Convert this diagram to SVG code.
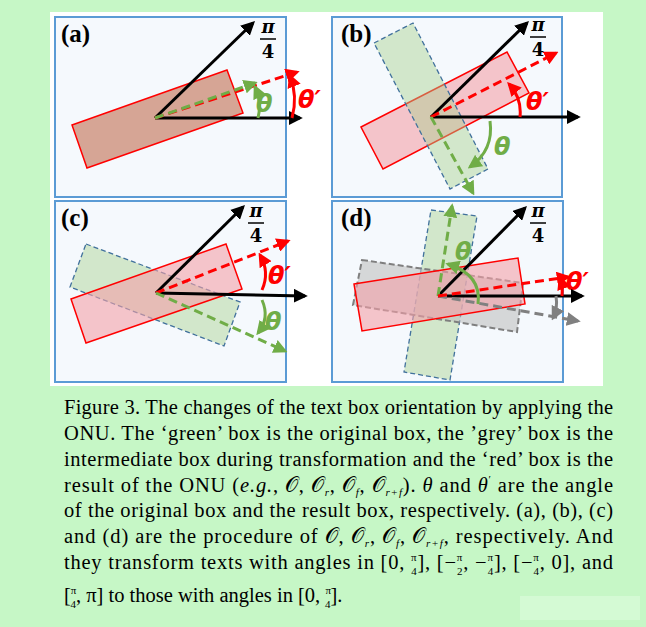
<svg xmlns="http://www.w3.org/2000/svg" width="646" height="627" viewBox="0 0 646 627">
<defs>
<marker id="mr" viewBox="0 0 10 10" refX="8" refY="5" markerWidth="14" markerHeight="14" orient="auto" markerUnits="userSpaceOnUse"><path d="M0,0 L10,5 L0,10 z" fill="#ff0000"/></marker>
<marker id="mg" viewBox="0 0 10 10" refX="8" refY="5" markerWidth="14" markerHeight="14" orient="auto" markerUnits="userSpaceOnUse"><path d="M0,0 L10,5 L0,10 z" fill="#70ad47"/></marker>
<marker id="my" viewBox="0 0 10 10" refX="8" refY="5" markerWidth="14" markerHeight="14" orient="auto" markerUnits="userSpaceOnUse"><path d="M0,0 L10,5 L0,10 z" fill="#808080"/></marker>
<marker id="mb" viewBox="0 0 10 10" refX="8" refY="5" markerWidth="14" markerHeight="14" orient="auto" markerUnits="userSpaceOnUse"><path d="M0,0 L10,5 L0,10 z" fill="#000"/></marker>
</defs>
<style>
.panel{fill:#f5f9fd;stroke:#5b9bd5;stroke-width:2}
.red{fill:#f4a0a8;fill-opacity:0.6;stroke:#ff0000;stroke-width:1.5}
.grn{fill:#a9d08e;fill-opacity:0.45;stroke:#41719c;stroke-width:1.3;stroke-dasharray:5 3}
.gry{fill:#bfbfbf;fill-opacity:0.6;stroke:#7f7f7f;stroke-width:2;stroke-dasharray:6 3}
.ax{stroke:#000;stroke-width:3;fill:none;marker-end:url(#mb)}
.rd{stroke:#ff0000;stroke-width:3;stroke-dasharray:9 5;fill:none;marker-end:url(#mr)}
.gd{stroke:#70ad47;stroke-width:3;stroke-dasharray:9 5;fill:none;marker-end:url(#mg)}
.yd{stroke:#808080;stroke-width:3;stroke-dasharray:9 5;fill:none;marker-end:url(#my)}
.ra{stroke:#ff0000;stroke-width:3;fill:none;marker-end:url(#mr)}
.ga{stroke:#70ad47;stroke-width:3;fill:none;marker-end:url(#mg)}
.ya{stroke:#808080;stroke-width:3;fill:none;marker-end:url(#my)}
.lab{font-family:"Liberation Serif",serif;font-weight:bold;font-size:25px}
.pi{font-family:"DejaVu Serif","Liberation Serif",serif;font-weight:bold;font-style:italic;font-size:18px;text-anchor:middle}
.fr{font-family:"DejaVu Serif","Liberation Serif",serif;font-weight:bold;font-size:18px;text-anchor:middle}
.th{font-family:"DejaVu Sans","Liberation Sans",sans-serif;font-weight:bold;font-style:italic;font-size:24px}
.cap{font-family:"Liberation Serif",serif;font-size:20.5px;fill:#000}
.sm{font-size:11px}
</style>
<rect width="646" height="627" fill="#c6f7c6"/>
<rect x="50" y="12" width="553" height="374" fill="#ffffff"/>
<rect x="520" y="596" width="120" height="24" fill="#d4fad4"/>

<g id="panel-a">
<rect class="panel" x="55" y="17" width="231" height="180"/>
<polygon points="72,125 227,70 243,113 87,168" fill="#d6a595" stroke="#ff0000" stroke-width="1.5"/>
<text class="lab" x="61" y="42">(a)</text>
<text class="pi" x="268" y="33">π</text><line x1="260" y1="39" x2="276" y2="39" stroke="#000" stroke-width="1.5"/><text class="fr" x="268" y="58">4</text>
<text class="th" x="256" y="112" fill="#70ad47">θ</text>
<text class="th" x="298" y="108" fill="#ff0000">θ′</text>
</g>
<g id="panel-b">
<rect class="panel" x="332" y="17" width="230" height="180"/>
<polygon class="red" points="361,127 507,52 529,93 383,169"/>
<polygon class="grn" points="374,43 413,23 488,169 450,189"/>
<text class="lab" x="341" y="42">(b)</text>
<text class="pi" x="538" y="31">π</text><line x1="530" y1="37" x2="546" y2="37" stroke="#000" stroke-width="1.5"/><text class="fr" x="538" y="56">4</text>
<text class="th" x="526" y="110" fill="#ff0000">θ′</text>
<text class="th" x="494" y="155" fill="#70ad47">θ</text>
</g>
<g id="panel-c">
<rect class="panel" x="55" y="201" width="231" height="181"/>
<polygon class="grn" points="86,244 240,302 224,346 70,287"/>
<polygon class="red" points="71,299 226,244 242,289 86,343"/>
<text class="lab" x="61" y="226">(c)</text>
<text class="pi" x="256" y="217">π</text><line x1="248" y1="223" x2="264" y2="223" stroke="#000" stroke-width="1.5"/><text class="fr" x="256" y="242">4</text>
<text class="th" x="268" y="284" fill="#ff0000">θ′</text>
<text class="th" x="265" y="330" fill="#70ad47">θ</text>
</g>
<g id="panel-d">
<rect class="panel" x="332" y="201" width="231" height="181"/>
<polygon class="grn" points="431,210 477,216 450,380 404,372"/>
<polygon class="gry" points="362,260 523,283 517,332 353,305"/>
<polygon class="red" points="354,284 518,258 525,304 362,331"/>
<text class="lab" x="341" y="226">(d)</text>
<text class="pi" x="538" y="217">π</text><line x1="530" y1="223" x2="546" y2="223" stroke="#000" stroke-width="1.5"/><text class="fr" x="538" y="242">4</text>
<text class="th" x="455" y="260" fill="#70ad47">θ</text>
<text class="th" x="566" y="290" fill="#ff0000">θ′</text>
</g>
<g id="connectors">
<line class="ax" x1="155" y1="118" x2="253" y2="23"/>
<line class="ax" x1="155" y1="118" x2="300" y2="118"/>
<line class="rd" x1="155" y1="118" x2="297" y2="72"/>
<line class="gd" x1="155" y1="118" x2="255" y2="83"/>
<path class="ga" d="M258,118 Q262,102 255,87"/>
<path class="ra" d="M292,118 Q298,96 290,76"/>

<line class="ax" x1="431" y1="117" x2="527" y2="23"/>
<line class="ax" x1="431" y1="117" x2="578" y2="117"/>
<line class="rd" x1="431" y1="117" x2="556" y2="53"/>
<line class="gd" x1="431" y1="117" x2="473" y2="193"/>
<path class="ra" d="M520,117 Q522,98 509,84"/>
<path class="ga" d="M490,121 Q494,150 470,167"/>

<line class="ax" x1="156" y1="293" x2="243" y2="207"/>
<line class="ax" x1="156" y1="293" x2="305" y2="296"/>
<line class="rd" x1="156" y1="293" x2="288" y2="241"/>
<line class="gd" x1="156" y1="293" x2="285" y2="351"/>
<path class="ra" d="M262,290 Q270,272 260,255"/>
<path class="ga" d="M262,300 Q270,318 258,333"/>

<line class="ax" x1="438" y1="296" x2="525" y2="208"/>
<line class="ax" x1="438" y1="296" x2="582" y2="296"/>
<line class="gd" x1="438" y1="296" x2="452" y2="206"/>
<line class="yd" x1="438" y1="296" x2="578" y2="321"/>
<line class="rd" x1="438" y1="296" x2="568" y2="277"/>
<path class="ga" d="M478,304 Q482,275 448,264"/>
<path class="ra" d="M562,296 Q563,286 560,278"/>
<path class="ya" d="M556,296 Q558,308 553,318"/>
</g>

<g id="caption" class="cap">
<text x="64" y="414" textLength="549" lengthAdjust="spacing">Figure 3. The changes of the text box orientation by applying the</text>
<text x="64" y="440" textLength="549" lengthAdjust="spacing">ONU. The ‘green’ box is the original box, the ’grey’ box is the</text>
<text x="64" y="466" textLength="549" lengthAdjust="spacing">intermediate box during transformation and the ‘red’ box is the</text>
<text x="64" y="492" textLength="549" lengthAdjust="spacing">result of the ONU (<tspan font-style="italic">e.g.</tspan>, 𝒪, 𝒪<tspan class="sm" dy="4" font-style="italic">r</tspan><tspan dy="-4">, 𝒪</tspan><tspan class="sm" dy="4" font-style="italic">f</tspan><tspan dy="-4">, 𝒪</tspan><tspan class="sm" dy="4" font-style="italic">r+f</tspan><tspan dy="-4">). </tspan><tspan font-style="italic">θ</tspan> and <tspan font-style="italic">θ</tspan><tspan class="sm" dy="-9">′</tspan><tspan dy="9"> are the angle</tspan></text>
<text x="64" y="517" textLength="549" lengthAdjust="spacing">of the original box and the result box, respectively. (a), (b), (c)</text>
<text x="64" y="543" textLength="549" lengthAdjust="spacing">and (d) are the procedure of 𝒪, 𝒪<tspan class="sm" dy="4" font-style="italic">r</tspan><tspan dy="-4">, 𝒪</tspan><tspan class="sm" dy="4" font-style="italic">f</tspan><tspan dy="-4">, 𝒪</tspan><tspan class="sm" dy="4" font-style="italic">r+f</tspan><tspan dy="-4">, respectively. And</tspan></text>
<text x="64" y="569" textLength="549" lengthAdjust="spacing">they transform texts with angles in [0, <tspan class="sm" dy="-8">π</tspan><tspan class="sm" dx="-6" dy="14">4</tspan><tspan dy="-6">], [−</tspan><tspan class="sm" dy="-8">π</tspan><tspan class="sm" dx="-6" dy="14">2</tspan><tspan dy="-6">, −</tspan><tspan class="sm" dy="-8">π</tspan><tspan class="sm" dx="-6" dy="14">4</tspan><tspan dy="-6">], [−</tspan><tspan class="sm" dy="-8">π</tspan><tspan class="sm" dx="-6" dy="14">4</tspan><tspan dy="-6">, 0], and</tspan></text>
<text x="64" y="602">[<tspan class="sm" dy="-8">π</tspan><tspan class="sm" dx="-6" dy="14">4</tspan><tspan dy="-6">, π] to those with angles in [0, </tspan><tspan class="sm" dy="-8">π</tspan><tspan class="sm" dx="-6" dy="14">4</tspan><tspan dy="-6">].</tspan></text>
</g>
</svg>
